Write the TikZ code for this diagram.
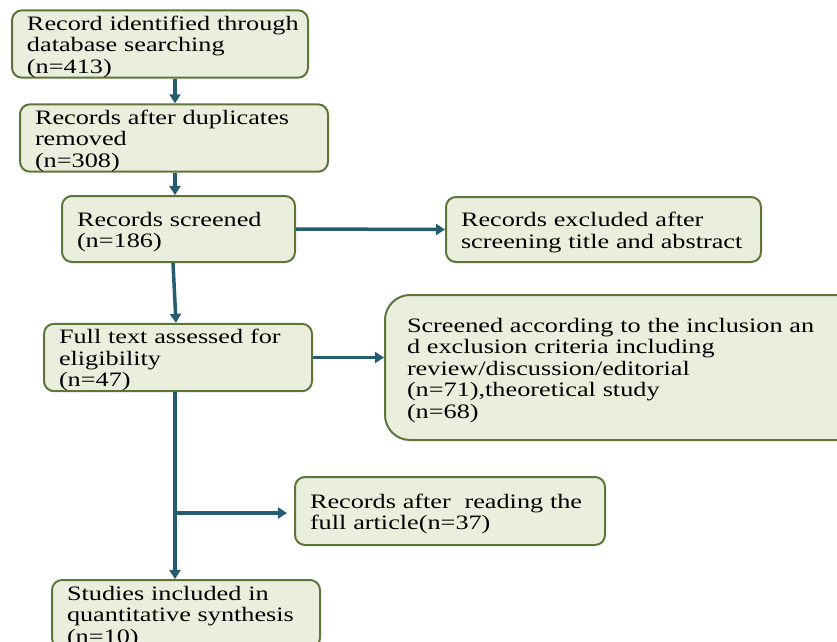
\documentclass[tikz,border=0pt]{standalone}
\usepackage{fontspec}
\setmainfont{Liberation Serif}[FakeStretch=1.28]
\usetikzlibrary{arrows.meta}
\definecolor{boxfill}{RGB}{235,238,221}
\definecolor{boxline}{RGB}{92,118,58}
\definecolor{arrcol}{RGB}{38,92,112}
\newcommand{\topstrut}{\rule{0pt}{20pt}}
\tikzset{
  flowbox/.style={draw=boxline, fill=boxfill, line width=2pt, rounded corners=10pt,
    align=left, inner xsep=15pt, inner ysep=0pt,
    font=\fontsize{20.5pt}{21.5pt}\selectfont},
  arr/.style={draw=arrcol, line width=3.5pt, -{Triangle[length=9pt,width=11pt]}}
}
\begin{document}
\begin{tikzpicture}[x=1pt,y=-1pt]
\useasboundingbox (0,0) rectangle (837,641);
\coordinate (spine) at (175,0);
\node[flowbox, text width=266pt, minimum height=64pt] (a) at (160,44)
  {\topstrut\mbox{Record identified through}\\database searching\\(n=413)};
\node[flowbox, text width=278pt, minimum height=66pt] (b) at (174,138)
  {\topstrut\mbox{Records after duplicates}\\removed\\(n=308)};
\node[flowbox, text width=203pt, minimum height=66pt] (c) at (178.5,229)
  {\topstrut Records screened\\(n=186)};
\node[flowbox, text width=285pt, minimum height=65pt] (d) at (603.5,229.5)
  {\topstrut Records excluded after\\\mbox{screening title and abstract}};
\node[flowbox, text width=238pt, minimum height=65pt] (e) at (178,357.5)
  {\topstrut\mbox{Full text assessed for}\\eligibility\\(n=47)};
\node[flowbox, rounded corners=25pt, inner xsep=22pt, text width=436pt, minimum height=145pt] (f) at (625,367.5)
  {\topstrut\mbox{Screened according to the inclusion an}\\d exclusion criteria including\\review/discussion/editorial\\(n=71),theoretical study\\(n=68)};
\node[flowbox, text width=280pt, minimum height=68pt] (g) at (450,511)
  {\topstrut\mbox{Records after\ \ reading the}\\full article(n=37)};
\node[flowbox, text width=238pt, minimum height=68pt] (h) at (186,614)
  {\topstrut Studies included in\\\mbox{quantitative synthesis}\\(n=10)};
\draw[arr] (a.south -| spine) -- (b.north -| spine);
\draw[arr] (b.south -| spine) -- (c.north -| spine);
\draw[arr] (c.east) -- (d.west);
\draw[arr] ([xshift=-2pt]c.south -| spine) -- ([xshift=1pt]e.north -| spine);
\draw[arr] (e.east) -- (e.east -| f.west);
\draw[arr] (e.south -| spine) -- (h.north -| spine);
\coordinate (br) at (175,513);
\draw[arr, shorten >=7pt] (br) -- (br -| g.west);
\end{tikzpicture}
\end{document}
